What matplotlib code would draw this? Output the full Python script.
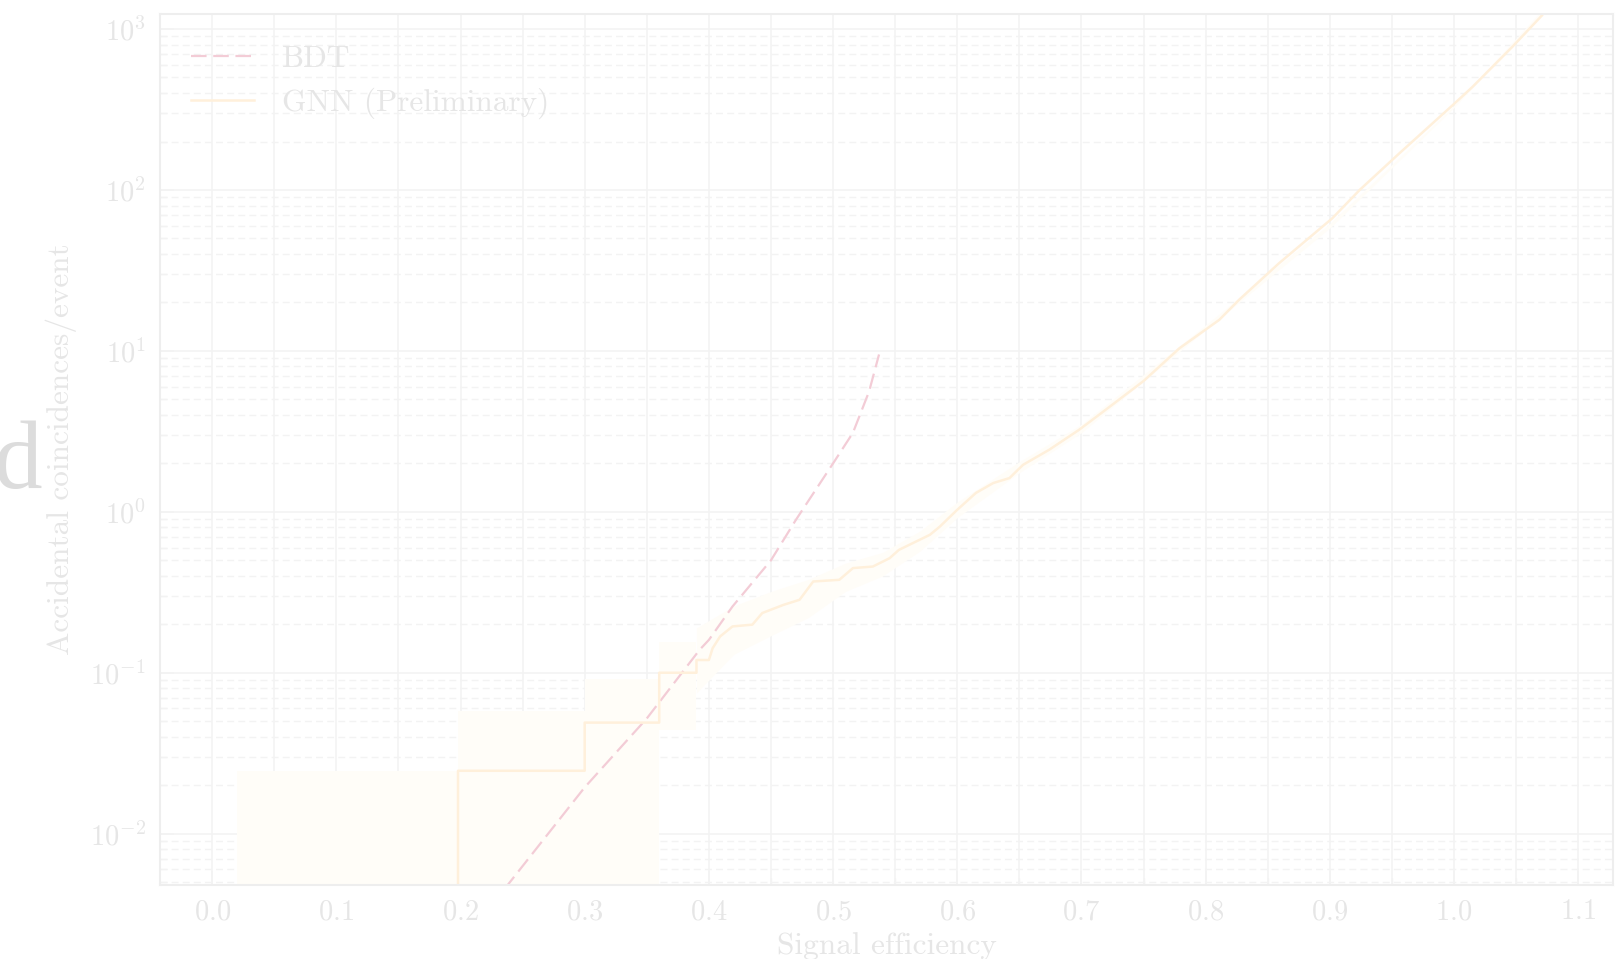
import matplotlib
matplotlib.use('Agg')
import matplotlib.pyplot as plt
from matplotlib.ticker import MultipleLocator, LogLocator, NullFormatter
import numpy as np

plt.rcParams['font.family'] = ['cmr10', 'DejaVu Serif']
plt.rcParams['mathtext.fontset'] = 'cm'
plt.rcParams['axes.formatter.use_mathtext'] = True

# BDT curve (dashed)
bdt_x = [0.225, 0.238, 0.30, 0.35, 0.3926, 0.40, 0.419, 0.45, 0.47, 0.50, 0.516, 0.529, 0.537]
bdt_y = [0.0035, 0.0048, 0.0194, 0.052, 0.139, 0.16, 0.258, 0.50, 0.89, 2.0, 3.1, 5.6, 9.5]

# GNN curve (solid, stepped at low efficiency)
gnn_x = [0.02, 0.198, 0.198, 0.30, 0.30, 0.36, 0.36, 0.39, 0.39, 0.40, 0.403, 0.409,
         0.419, 0.435, 0.443, 0.46, 0.473, 0.484, 0.505, 0.516, 0.532, 0.5455, 0.553,
         0.578, 0.586, 0.60, 0.615, 0.629, 0.642, 0.653, 0.674, 0.698, 0.714, 0.75,
         0.779, 0.811, 0.827, 0.859, 0.902, 0.924, 0.956, 0.999, 1.015, 1.047, 1.071, 1.075]
gnn_y = [1e-4, 1e-4, 0.0246, 0.0246, 0.049, 0.049, 0.10, 0.10, 0.12, 0.12, 0.142, 0.168,
         0.194, 0.199, 0.235, 0.264, 0.284, 0.369, 0.378, 0.447, 0.457, 0.515, 0.58,
         0.72, 0.81, 1.03, 1.31, 1.51, 1.62, 1.96, 2.43, 3.23, 4.0, 6.5,
         10.4, 15.6, 20.8, 35, 66.7, 100, 169, 337, 438, 776, 1220, 1400]

# GNN uncertainty band: stepped part
band_step_x = [0.02, 0.198, 0.30, 0.36, 0.39]
band_step_lo = [1e-4, 1e-4, 1e-4, 0.044, 0.075]
band_step_hi = [0.0246, 0.0575, 0.091, 0.156, 0.19]

# GNN uncertainty band: smooth part
band_x = [0.39, 0.42, 0.45, 0.48, 0.51, 0.54, 0.57, 0.60, 0.65, 0.70, 0.80, 0.90, 1.0, 1.075]
band_lo = [0.075, 0.13, 0.17, 0.22, 0.32, 0.40, 0.57, 0.92, 1.75, 3.1, 13.5, 58, 325, 1380]
band_hi = [0.19, 0.26, 0.32, 0.38, 0.48, 0.56, 0.76, 1.15, 2.05, 3.5, 14.5, 62, 335, 1420]

txt = '#e6e6e6'
grid_c = '#f3f3f3'
bdt_c = '#f3ccd6'
gnn_c = '#fff0db'
band_c = '#fffdf8'

fig = plt.figure(figsize=(16.19, 9.59), dpi=100)
ax = fig.add_axes([0.0988, 0.0772, 0.8975, 0.9082])

ax.fill_between(band_step_x, band_step_lo, band_step_hi, step='post', color=band_c, lw=0)
ax.fill_between(band_x, band_lo, band_hi, color=band_c, lw=0)

ax.plot(bdt_x, bdt_y, color=bdt_c, lw=1.6, dashes=(7, 3), label='BDT')
ax.plot(gnn_x, gnn_y, color=gnn_c, lw=1.8, label='GNN (Preliminary)')

ax.set_yscale('log')
ax.set_xlim(-0.042, 1.128)
ax.set_ylim(0.0048, 1240)

ax.xaxis.set_major_locator(MultipleLocator(0.1))
ax.xaxis.set_minor_locator(MultipleLocator(0.05))
ax.yaxis.set_major_locator(LogLocator(base=10, numticks=20))
ax.yaxis.set_minor_locator(LogLocator(base=10, subs=np.arange(2, 10), numticks=20))
ax.yaxis.set_minor_formatter(NullFormatter())

ax.grid(True, which='major', axis='both', color=grid_c, lw=1.2, ls='-')
ax.grid(True, which='minor', axis='x', color=grid_c, lw=1.2, ls='-')
ax.grid(True, which='minor', axis='y', color=grid_c, lw=1.0, ls=(0, (5, 3)))
ax.set_axisbelow(True)

ax.tick_params(which='both', direction='in', colors=grid_c, labelcolor=txt, labelsize=20.5)
ax.tick_params(which='major', length=10, width=1.2, pad=10)
ax.tick_params(which='minor', length=5, width=1.0)
for s in ax.spines.values():
    s.set_color('#eeeeee')
    s.set_linewidth(1.5)

ax.set_xlabel('Signal efficiency', fontsize=22.5, color=txt, labelpad=5)
ax.set_ylabel('Accidental coincidences/event', fontsize=22.5, color=txt, labelpad=9)

leg = ax.legend(loc='upper left', frameon=False, fontsize=22.5, handlelength=2.0,
                labelspacing=0.45, borderaxespad=0.6, handletextpad=0.9)
for t in leg.get_texts():
    t.set_color(txt)

fig.text(-0.004, 0.491, 'd', fontsize=70, color='#dcdcdc', ha='left', va='baseline',
         family='Liberation Serif')

fig.savefig('out.png', dpi=100)
